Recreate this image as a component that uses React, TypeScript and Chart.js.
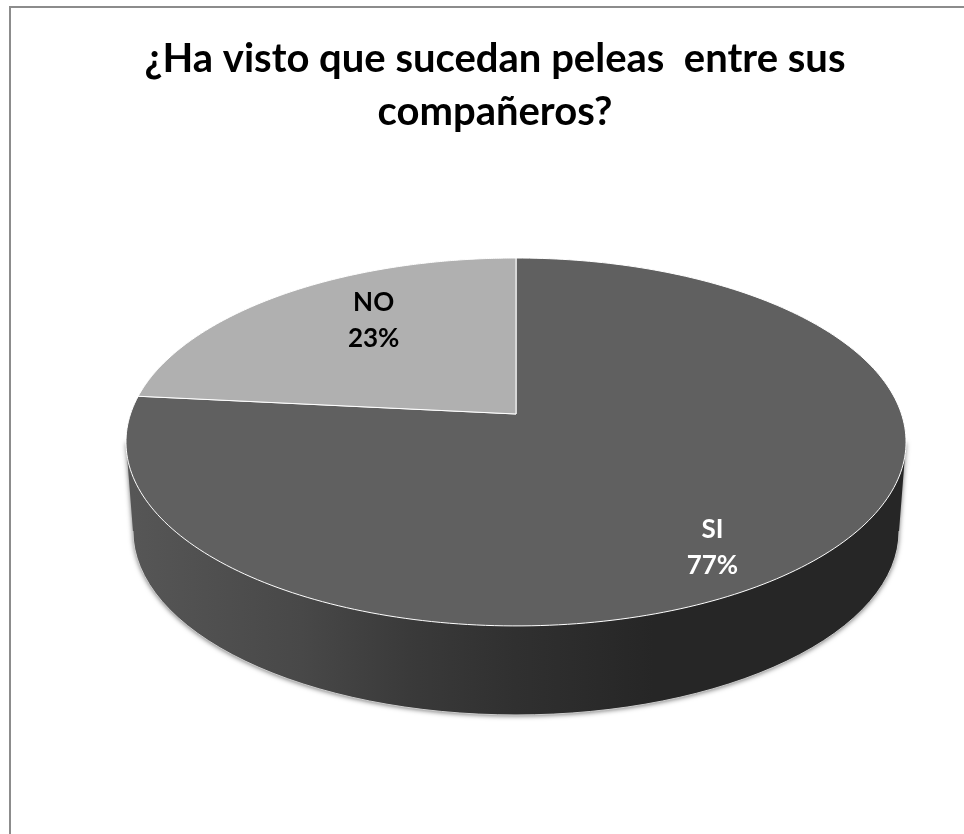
import React, { useEffect, useRef } from "react";
import { Chart, registerables } from "chart.js";

Chart.register(...registerables);

const categories = ["SI", "NO"];
const percentages = [76.6, 23.4];
const sliceColors = ["#606060", "#b0b0b0"];
const labelColors = ["#ffffff", "#000000"];
const titleLines = ["¿Ha visto que sucedan peleas  entre sus", "compañeros?"];

// Perspective of the tilted disc
const APEX_DX = 21;
const RX = 385.5;
const RY = 179.7;
const PERSPECTIVE = 0.152;
const WALL_DEPTH = 89;
const WALL_INSET = 7;
const ELLIPSE_DY = 28;
const LABEL_RADIAL = [0.9, 0.76];
const LABEL_X_SCALE = 0.77;
const LABEL_DX = -3;
const LABEL_LINE_GAP = 36;
const FONT = "Lato, 'Open Sans', sans-serif";

function project(cx: number, cy: number, angle: number, f = 1) {
  const u = Math.cos(angle) * f;
  const v = Math.sin(angle) * f;
  const w = 1 - PERSPECTIVE * v;
  return { x: cx + (RX * u) / w, y: cy + (RY * v) / w };
}

const pie3d = {
  id: "pie3d",
  beforeDatasetDraw(chart: any, args: any) {
    const ctx = chart.ctx as CanvasRenderingContext2D;
    const arcs = args.meta.data as any[];
    const cx = arcs[0].x + APEX_DX;
    const cy = arcs[0].y;

    // Outer frame
    ctx.save();
    ctx.strokeStyle = "#8c8c8c";
    ctx.lineWidth = 2;
    ctx.beginPath();
    ctx.moveTo(10, chart.height);
    ctx.lineTo(10, 7);
    ctx.lineTo(chart.width, 7);
    ctx.stroke();
    ctx.restore();

    // Side wall
    const mainRx = RX / Math.sqrt(1 - PERSPECTIVE * PERSPECTIVE);
    const wallY = cy + ELLIPSE_DY + WALL_DEPTH;
    const wallRx = mainRx - WALL_INSET;
    const wallRy = RY / (1 - PERSPECTIVE * PERSPECTIVE);
    const grad = ctx.createLinearGradient(cx - wallRx, 0, cx + wallRx, 0);
    grad.addColorStop(0, "#565656");
    grad.addColorStop(0.22, "#484848");
    grad.addColorStop(0.36, "#3a3a3a");
    grad.addColorStop(0.5, "#303030");
    grad.addColorStop(0.68, "#262626");
    grad.addColorStop(1, "#262626");
    const wall = new Path2D();
    wall.moveTo(cx - mainRx, cy + ELLIPSE_DY);
    wall.lineTo(cx - wallRx, wallY);
    wall.ellipse(cx, wallY, wallRx, wallRy, 0, Math.PI, 0, true);
    wall.lineTo(cx + mainRx, cy + ELLIPSE_DY);
    wall.closePath();
    ctx.save();
    ctx.shadowColor = "rgba(0,0,0,0.55)";
    ctx.shadowBlur = 5;
    ctx.shadowOffsetY = 1;
    ctx.fillStyle = grad;
    ctx.fill(wall);
    ctx.restore();
    ctx.save();
    ctx.strokeStyle = "rgba(215,215,215,0.9)";
    ctx.lineWidth = 1;
    ctx.beginPath();
    ctx.ellipse(cx, wallY, wallRx, wallRy, 0, Math.PI, 0, true);
    ctx.stroke();
    ctx.restore();

    // Top surface, one sector per data value
    arcs.forEach((arc, i) => {
      ctx.beginPath();
      ctx.moveTo(cx, cy);
      const steps = 240;
      for (let s = 0; s <= steps; s++) {
        const a = arc.startAngle + ((arc.endAngle - arc.startAngle) * s) / steps;
        const p = project(cx, cy, a);
        ctx.lineTo(p.x, p.y);
      }
      ctx.closePath();
      ctx.fillStyle = sliceColors[i];
      ctx.fill();
      ctx.strokeStyle = "#ffffff";
      ctx.lineWidth = 1;
      ctx.stroke();
    });

    // Data labels
    ctx.save();
    ctx.textAlign = "center";
    ctx.textBaseline = "middle";
    ctx.font = `bold 26px ${FONT}`;
    arcs.forEach((arc, i) => {
      const mid = (arc.startAngle + arc.endAngle) / 2;
      const p = project(cx, cy, mid, LABEL_RADIAL[i]);
      const x = cx + (p.x - cx) * LABEL_X_SCALE + LABEL_DX;
      ctx.fillStyle = labelColors[i];
      ctx.fillText(categories[i], x, p.y - LABEL_LINE_GAP / 2);
      ctx.fillText(`${Math.round(percentages[i])}%`, x, p.y + LABEL_LINE_GAP / 2);
    });
    ctx.restore();
    return false;
  },
};

export default function App() {
  const ref = useRef<HTMLCanvasElement>(null);
  useEffect(() => {
    const chart = new Chart(ref.current as HTMLCanvasElement, {
      type: "pie",
      data: {
        labels: categories,
        datasets: [{ data: percentages, backgroundColor: sliceColors }],
      },
      options: {
        animation: false,
        responsive: false,
        layout: { padding: { left: 26, right: 0, top: 33, bottom: 165 } },
        plugins: {
          legend: { display: false },
          tooltip: { enabled: false },
          title: {
            display: true,
            text: titleLines,
            color: "#000000",
            font: { family: FONT, size: 40, weight: "bold", lineHeight: 1.325 },
            padding: { top: 0, bottom: 20 },
          },
        },
      },
      plugins: [pie3d],
    } as any);
    return () => chart.destroy();
  }, []);
  return (
    <div style={{ position: "fixed", left: 0, top: 0, width: 964, height: 834, background: "#ffffff" }}>
      <canvas ref={ref} width={964} height={834} style={{ display: "block" }} />
    </div>
  );
}
